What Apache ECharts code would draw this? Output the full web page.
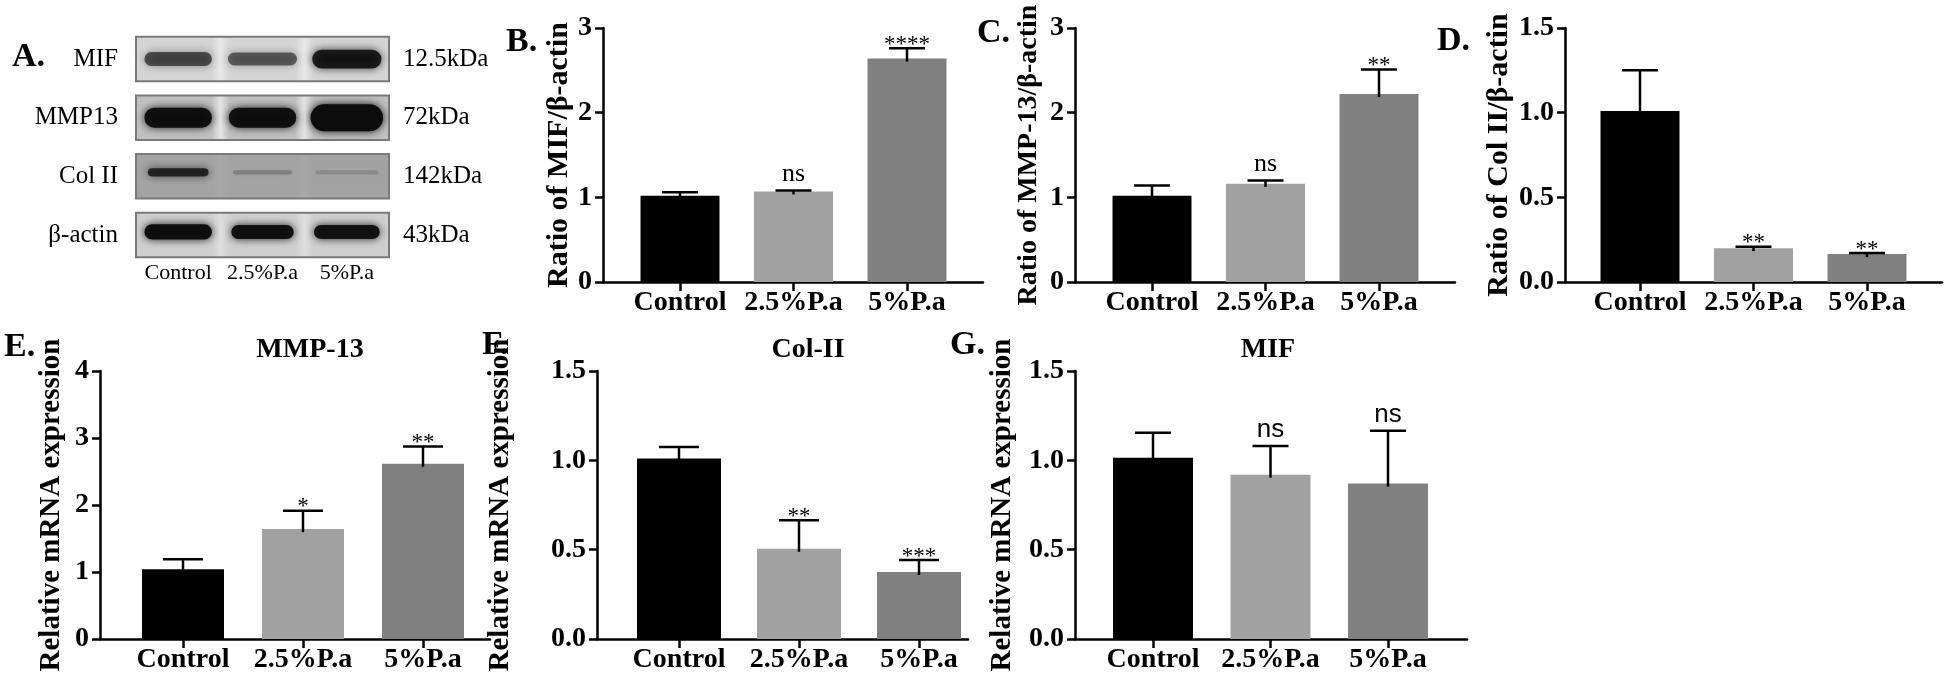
<!DOCTYPE html>
<html><head><meta charset="utf-8">
<script src="https://cdn.jsdelivr.net/npm/echarts@6/dist/echarts.min.js"></script>
<style>html,body{margin:0;padding:0;background:#fff}#c{width:1946px;height:675px}</style>
</head><body><div id="c"></div>
<script>
// ================= DATA =================
const categories = ['Control', '2.5%P.a', '5%P.a'];

// B. MIF / β-actin (western blot)
const mifWbMean = [1.02, 1.07, 2.64];
const mifWbErr  = [0.04, 0.01, 0.12];
const mifWbSig  = ['', 'ns', '****'];
// C. MMP-13 / β-actin
const mmp13WbMean = [1.02, 1.16, 2.22];
const mmp13WbErr  = [0.12, 0.04, 0.29];
const mmp13WbSig  = ['', 'ns', '**'];
// D. Col II / β-actin
const col2WbMean = [1.01, 0.20, 0.165];
const col2WbErr  = [0.24, 0.008, 0.006];
const col2WbSig  = ['', '**', '**'];
// E. MMP-13 mRNA
const mmp13MrnaMean = [1.04, 1.64, 2.615];
const mmp13MrnaErr  = [0.15, 0.275, 0.26];
const mmp13MrnaSig  = ['', '*', '**'];
// F. Col-II mRNA
const col2MrnaMean = [1.01, 0.505, 0.375];
const col2MrnaErr  = [0.065, 0.16, 0.067];
const col2MrnaSig  = ['', '**', '***'];
// G. MIF mRNA
const mifMrnaMean = [1.015, 0.92, 0.87];
const mifMrnaErr  = [0.14, 0.16, 0.295];
const mifMrnaSig  = ['', 'ns', 'ns'];

// tick labels
const ticks0to3 = ['0', '1', '2', '3'];
const ticks0to4 = ['0', '1', '2', '3', '4'];
const ticks0to15 = ['0.0', '0.5', '1.0', '1.5'];

// A. western blot
const blotProteins = ['MIF', 'MMP13', 'Col II', 'β-actin'];
const blotKDa = ['12.5kDa', '72kDa', '142kDa', '43kDa'];
const blotIntensity = [
  [0.62, 0.55, 0.88],
  [0.95, 0.95, 1.00],
  [0.80, 0.22, 0.15],
  [0.97, 0.95, 0.93]
];

// ================= STYLE / LAYOUT =================
const SERIF = '"Liberation Serif", "Times New Roman", serif';
const SANS = '"Liberation Sans", Arial, sans-serif';
const barColors = ['#000000', '#a1a1a1', '#808080'];
const blotStyle = {
  bg: ['#d4d4d4', '#c0c0c0', '#a3a3a3', '#cfcfcf'],
  gap: ['#e8e8e8', '#e4e4e4', '#a8a8a8', '#dedede'],
  bandW: [[0.8, 0.82, 0.82], [0.8, 0.8, 0.86], [0.72, 0.7, 0.75], [0.8, 0.74, 0.78]],
  bandH: [[0.24, 0.22, 0.32], [0.34, 0.34, 0.46], [0.14, 0.07, 0.07], [0.26, 0.24, 0.24]],
  dy: [0, 0, -4, -3]
};

const panels = [
  { letter: 'B.', letterPos: [506, 25], mean: mifWbMean, err: mifWbErr, sig: mifWbSig, ticks: ticks0to3, interval: 1,
    yName: 'Ratio of MIF/β-actin', nameSize: 30, frame: { l: 603, r: 983, t: 28, b: 282 }, c0: 680, step: 113.5, barW: 79, capW: 36, nameGap: 28, nsFont: SERIF },
  { letter: 'C.', letterPos: [977, 16], mean: mmp13WbMean, err: mmp13WbErr, sig: mmp13WbSig, ticks: ticks0to3, interval: 1,
    yName: 'Ratio of MMP-13/β-actin', nameSize: 28, frame: { l: 1075, r: 1455, t: 28, b: 282 }, c0: 1152, step: 113.5, barW: 79, capW: 36, nameGap: 32, nsFont: SERIF },
  { letter: 'D.', letterPos: [1437, 24], mean: col2WbMean, err: col2WbErr, sig: col2WbSig, ticks: ticks0to15, interval: 0.5,
    yName: 'Ratio of Col II/β-actin', nameSize: 30, frame: { l: 1565, r: 1942, t: 28, b: 282 }, c0: 1640, step: 113.5, barW: 79, capW: 36, nameGap: 51, nsFont: SERIF },
  { letter: 'E.', letterPos: [4, 330], title: 'MMP-13', titleX: 310, mean: mmp13MrnaMean, err: mmp13MrnaErr, sig: mmp13MrnaSig, ticks: ticks0to4, interval: 1,
    yName: 'Relative mRNA expression', nameSize: 29, frame: { l: 100, r: 490, t: 371, b: 639 }, c0: 183, step: 120, barW: 82, capW: 40, nameGap: 34, nsFont: SANS },
  { letter: 'F.', letterPos: [482, 328], title: 'Col-II', titleX: 808, mean: col2MrnaMean, err: col2MrnaErr, sig: col2MrnaSig, ticks: ticks0to15, interval: 0.5,
    yName: 'Relative mRNA expression', nameSize: 29, frame: { l: 597, r: 968, t: 371, b: 639 }, c0: 679, step: 120, barW: 84, capW: 40, nameGap: 82, nsFont: SANS },
  { letter: 'G.', letterPos: [950, 328], title: 'MIF', titleX: 1268, mean: mifMrnaMean, err: mifMrnaErr, sig: mifMrnaSig, ticks: ticks0to15, interval: 0.5,
    yName: 'Relative mRNA expression', nameSize: 29, frame: { l: 1075, r: 1467, t: 371, b: 639 }, c0: 1153, step: 117.5, barW: 80, capW: 36, nameGap: 58, nsFont: SANS }
];

const boldText = { fontFamily: SERIF, fontWeight: 'bold', fontSize: 28, color: '#000' };
const blackLine = { color: '#000', width: 2.5 };

const option = { animation: false, backgroundColor: '#fff', grid: [], xAxis: [], yAxis: [], series: [], title: [] };

// ----- Panel A: blot -----
option.title.push({ text: 'A.', left: 12, top: 40, padding: 0, textStyle: { fontFamily: SERIF, fontWeight: 'bold', fontSize: 34, color: '#000' } });
option.grid.push({ left: 136, top: 29.7, width: 253, height: 234.6, outerBoundsMode: 'none', containLabel: false });
option.xAxis.push({ gridIndex: 0, type: 'category', data: categories, axisLine: { show: false }, axisTick: { show: false },
  splitLine: { show: false }, axisLabel: { margin: -2, interval: 0, fontFamily: SERIF, fontSize: 22, color: '#000' } });
option.yAxis.push({ gridIndex: 0, type: 'category', data: blotProteins, inverse: true, position: 'left', axisLine: { show: false },
  axisTick: { show: false }, splitLine: { show: false }, axisLabel: { margin: 18, interval: 0, fontFamily: SERIF, fontSize: 25, color: '#000' } });
option.yAxis.push({ gridIndex: 0, type: 'category', data: blotKDa, inverse: true, position: 'right', axisLine: { show: false },
  axisTick: { show: false }, splitLine: { show: false }, axisLabel: { margin: 14, interval: 0, fontFamily: SERIF, fontSize: 25, color: '#000' } });

option.series.push({
  type: 'custom', xAxisIndex: 0, yAxisIndex: 0, z: 1, encode: { x: 0, y: 1 },
  data: blotProteins.map((p, r) => [0, r]),
  renderItem: function (params, api) {
    const r = api.value(1);
    const c0 = api.coord([0, r]);
    const sz = api.size([1, 1]);
    const h = sz[1] * 0.76;
    const b = blotStyle.bg[r], g = blotStyle.gap[r];
    const fill = new echarts.graphic.LinearGradient(0, 0, 1, 0, [
      { offset: 0, color: b }, { offset: 0.30, color: b }, { offset: 0.335, color: g }, { offset: 0.37, color: b },
      { offset: 0.63, color: b }, { offset: 0.665, color: g }, { offset: 0.70, color: b }, { offset: 1, color: b }
    ]);
    return { type: 'rect', shape: { x: c0[0] - sz[0] / 2, y: c0[1] - h / 2, width: sz[0] * categories.length, height: h },
      style: { fill: fill, stroke: '#7a7a7a', lineWidth: 2 } };
  }
});
const bandData = [];
blotIntensity.forEach((row, r) => row.forEach((v, l) => bandData.push([l, r, v])));
option.series.push({
  type: 'custom', xAxisIndex: 0, yAxisIndex: 0, z: 2, encode: { x: 0, y: 1 },
  data: bandData,
  renderItem: function (params, api) {
    const l = api.value(0), r = api.value(1), v = api.value(2);
    const c = api.coord([l, r]);
    const sz = api.size([1, 1]);
    const w = sz[0] * blotStyle.bandW[r][l], h = sz[1] * blotStyle.bandH[r][l];
    const col = 'rgba(12,12,12,' + v + ')';
    return { type: 'rect', shape: { x: c[0] - w / 2, y: c[1] + blotStyle.dy[r] - h / 2, width: w, height: h, r: h / 2 },
      style: { fill: col, shadowBlur: 8, shadowColor: col } };
  }
});

// ----- Bar panels -----
panels.forEach((p) => {
  const yMax = p.interval * (p.ticks.length - 1);
  const gFrame = option.grid.length;
  option.grid.push({ left: p.frame.l, top: p.frame.t, width: p.frame.r - p.frame.l, height: p.frame.b - p.frame.t, outerBoundsMode: 'none', containLabel: false });
  const gData = option.grid.length;
  option.grid.push({ left: p.c0 - p.step / 2, top: p.frame.t, width: p.step * categories.length, height: p.frame.b - p.frame.t, outerBoundsMode: 'none', containLabel: false });

  option.xAxis.push({ gridIndex: gFrame, type: 'value', min: 0, max: 1, axisLine: { show: true, onZero: false, lineStyle: blackLine },
    axisTick: { show: false }, axisLabel: { show: false }, splitLine: { show: false } });
  option.yAxis.push({ gridIndex: gFrame, type: 'value', min: 0, max: yMax, interval: p.interval,
    axisLine: { show: true, onZero: false, lineStyle: blackLine },
    axisTick: { show: true, inside: false, length: 8, lineStyle: blackLine },
    splitLine: { show: false },
    axisLabel: Object.assign({ margin: 11, formatter: (v) => p.ticks[Math.round(v / p.interval)] }, boldText),
    name: p.yName, nameLocation: 'middle', nameGap: p.nameGap,
    nameTextStyle: { fontFamily: SERIF, fontWeight: 'bold', fontSize: p.nameSize, color: '#000' } });

  const xData = option.xAxis.length;
  option.xAxis.push({ gridIndex: gData, type: 'category', data: categories, boundaryGap: true,
    axisLine: { show: false }, axisTick: { show: true, alignWithLabel: true, length: 9, lineStyle: blackLine },
    splitLine: { show: false }, axisLabel: Object.assign({ margin: 7, interval: 0 }, boldText) });
  const yData = option.yAxis.length;
  option.yAxis.push({ gridIndex: gData, type: 'value', min: 0, max: yMax, show: false });

  option.series.push({
    type: 'bar', xAxisIndex: xData, yAxisIndex: yData, barWidth: p.barW, z: 2,
    data: p.mean.map((v, i) => ({ value: v, itemStyle: { color: barColors[i] } }))
  });
  option.series.push({
    type: 'custom', xAxisIndex: xData, yAxisIndex: yData, z: 5, encode: { x: 0, y: 1 },
    data: p.mean.map((m, i) => [i, m, p.err[i]]),
    renderItem: function (params, api) {
      const i = api.value(0), m = api.value(1), e = api.value(2);
      const b = api.coord([i, m]);
      const t = api.coord([i, m + e]);
      const half = p.capW / 2;
      const children = [
        { type: 'line', shape: { x1: b[0], y1: b[1] + 3, x2: t[0], y2: t[1] }, style: { stroke: '#000', lineWidth: 2.5 } },
        { type: 'line', shape: { x1: t[0] - half, y1: t[1], x2: t[0] + half, y2: t[1] }, style: { stroke: '#000', lineWidth: 2.5 } }
      ];
      const s = p.sig[params.dataIndex];
      if (s) {
        const star = s.indexOf('*') >= 0;
        children.push({ type: 'text', style: { text: s, x: t[0], y: t[1] + (star ? 8 : -3), align: 'center', verticalAlign: 'bottom',
          fontFamily: star ? SERIF : p.nsFont, fontSize: star ? 23 : 26, fill: '#000' } });
      }
      return { type: 'group', children: children };
    }
  });

  option.title.push({ text: p.letter, left: p.letterPos[0], top: p.letterPos[1], padding: 0,
    textStyle: { fontFamily: SERIF, fontWeight: 'bold', fontSize: 34, color: '#000' } });
  if (p.title) {
    option.title.push({ text: p.title, left: p.titleX, top: 336, padding: 0, textAlign: 'center',
      textStyle: { fontFamily: SERIF, fontWeight: 'bold', fontSize: 28, color: '#000' } });
  }
});

const chart = echarts.init(document.getElementById('c'), null, { renderer: 'canvas' });
chart.setOption(option);
</script>
</body></html>
